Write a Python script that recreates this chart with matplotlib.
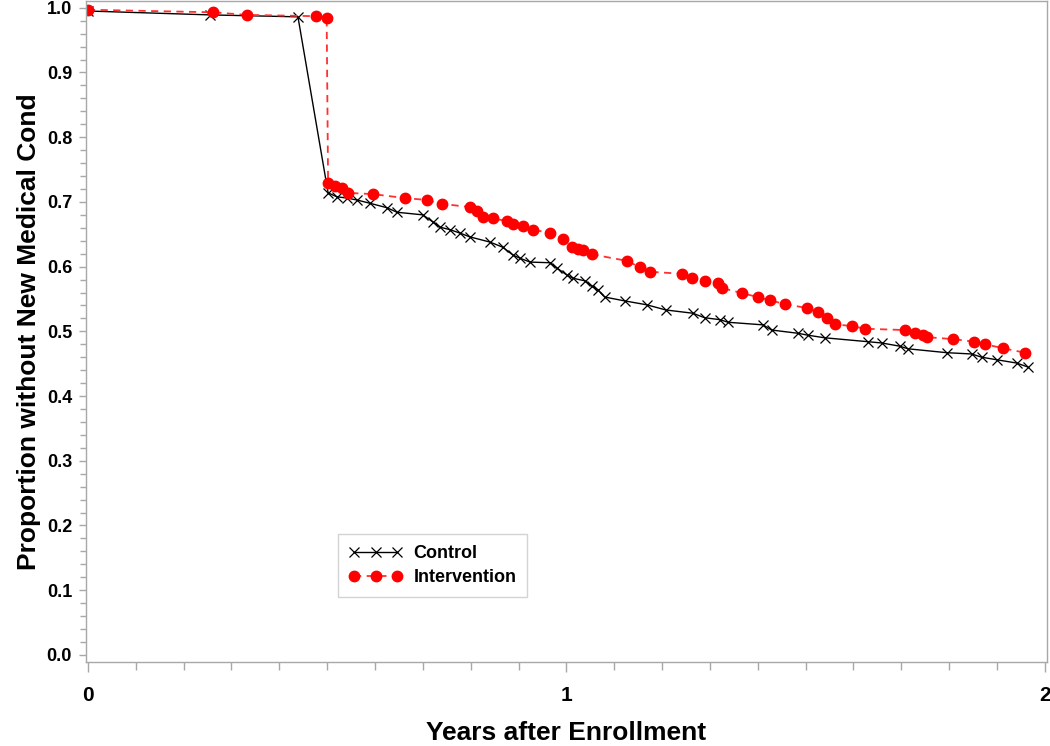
"""Kaplan-Meier style curves: proportion without new medical condition."""

import matplotlib
matplotlib.use("Agg")
import matplotlib.pyplot as plt
from matplotlib.ticker import MultipleLocator

plt.rcParams["font.family"] = ["Liberation Sans", "DejaVu Sans"]
plt.rcParams["font.weight"] = "bold"

# Control group (years, proportion)
control_x = [0.0, 0.255, 0.439, 0.502, 0.520, 0.541, 0.562, 0.589, 0.625, 0.646,
             0.700, 0.721, 0.736, 0.757, 0.777, 0.798, 0.840, 0.867, 0.888, 0.903,
             0.924, 0.966, 0.980, 1.001, 1.014, 1.039, 1.053, 1.066, 1.080, 1.122,
             1.168, 1.208, 1.264, 1.289, 1.321, 1.338, 1.411, 1.429, 1.484, 1.505,
             1.540, 1.630, 1.659, 1.697, 1.714, 1.795, 1.847, 1.868, 1.900, 1.941,
             1.964]
control_y = [0.995, 0.989, 0.986, 0.714, 0.708, 0.706, 0.703, 0.698, 0.691, 0.684,
             0.680, 0.669, 0.661, 0.657, 0.652, 0.646, 0.638, 0.630, 0.618, 0.613,
             0.607, 0.606, 0.598, 0.587, 0.582, 0.578, 0.570, 0.564, 0.553, 0.547,
             0.541, 0.533, 0.528, 0.521, 0.518, 0.514, 0.510, 0.502, 0.497, 0.494,
             0.490, 0.484, 0.482, 0.477, 0.473, 0.467, 0.465, 0.460, 0.456, 0.451,
             0.445]

# Intervention group (years, proportion)
interv_x = [0.0, 0.261, 0.332, 0.476, 0.499, 0.502, 0.516, 0.531, 0.543, 0.596,
            0.662, 0.708, 0.740, 0.798, 0.813, 0.825, 0.846, 0.876, 0.888, 0.909,
            0.930, 0.966, 0.993, 1.011, 1.024, 1.034, 1.053, 1.126, 1.154, 1.175,
            1.241, 1.262, 1.289, 1.317, 1.325, 1.367, 1.400, 1.425, 1.457, 1.503,
            1.526, 1.544, 1.561, 1.597, 1.624, 1.707, 1.728, 1.745, 1.753, 1.808,
            1.852, 1.875, 1.912, 1.958]
interv_y = [0.997, 0.993, 0.989, 0.987, 0.984, 0.729, 0.725, 0.721, 0.714, 0.712,
            0.706, 0.703, 0.697, 0.692, 0.686, 0.677, 0.675, 0.670, 0.666, 0.663,
            0.657, 0.652, 0.643, 0.630, 0.627, 0.626, 0.619, 0.609, 0.599, 0.592,
            0.589, 0.582, 0.578, 0.575, 0.567, 0.559, 0.553, 0.548, 0.542, 0.536,
            0.530, 0.521, 0.511, 0.508, 0.504, 0.502, 0.497, 0.494, 0.491, 0.488,
            0.484, 0.480, 0.474, 0.467]

FRAME = "#a8a8a8"

fig = plt.figure(figsize=(10.5, 7.46), dpi=100)
ax = fig.add_axes([0.0819, 0.1126, 0.915, 0.886])

ax.plot(control_x, control_y, color="black", lw=1.0, marker="x",
        ms=7, mew=0.9, label="Control")
ax.plot(interv_x, interv_y, color="#ff3030", lw=1.3, ls=(0, (4, 3)),
        marker="o", ms=7.5, mfc="red", mec="red", label="Intervention")

ax.set_xlim(-0.004, 2.004)
ax.set_ylim(-0.011, 1.0104)
ax.xaxis.set_major_locator(MultipleLocator(1))
ax.xaxis.set_minor_locator(MultipleLocator(0.1))
ax.yaxis.set_major_locator(MultipleLocator(0.1))
ax.yaxis.set_minor_locator(MultipleLocator(0.02))
ax.set_xticklabels([], minor=True)
ax.xaxis.set_major_formatter(plt.FuncFormatter(lambda v, p: f"{v:.0f}"))
ax.yaxis.set_major_formatter(plt.FuncFormatter(lambda v, p: f"{v:.1f}"))

for s in ax.spines.values():
    s.set_color(FRAME)
    s.set_linewidth(1.0)
ax.tick_params(which="both", color=FRAME, width=1.0)
ax.tick_params(axis="x", which="major", length=7, pad=10, labelsize=15)
ax.tick_params(axis="x", which="minor", length=6)
ax.tick_params(axis="y", which="major", length=5, pad=5, labelsize=13)
ax.tick_params(axis="y", which="minor", length=4)

ax.set_xlabel("Years after Enrollment", fontsize=19, fontweight="bold", labelpad=12)
ax.set_ylabel("Proportion without New Medical Cond", fontsize=19,
              fontweight="bold", labelpad=4)

leg = ax.legend(loc="lower left", bbox_to_anchor=(0.262, 0.098), numpoints=3,
                handlelength=3.0, fontsize=13, frameon=True, fancybox=False,
                borderpad=0.6, labelspacing=0.4, handletextpad=0.6,
                borderaxespad=0)
leg.get_frame().set_edgecolor("#c8c8c8")
leg.get_frame().set_linewidth(1.0)

fig.savefig("out.png", dpi=100)
